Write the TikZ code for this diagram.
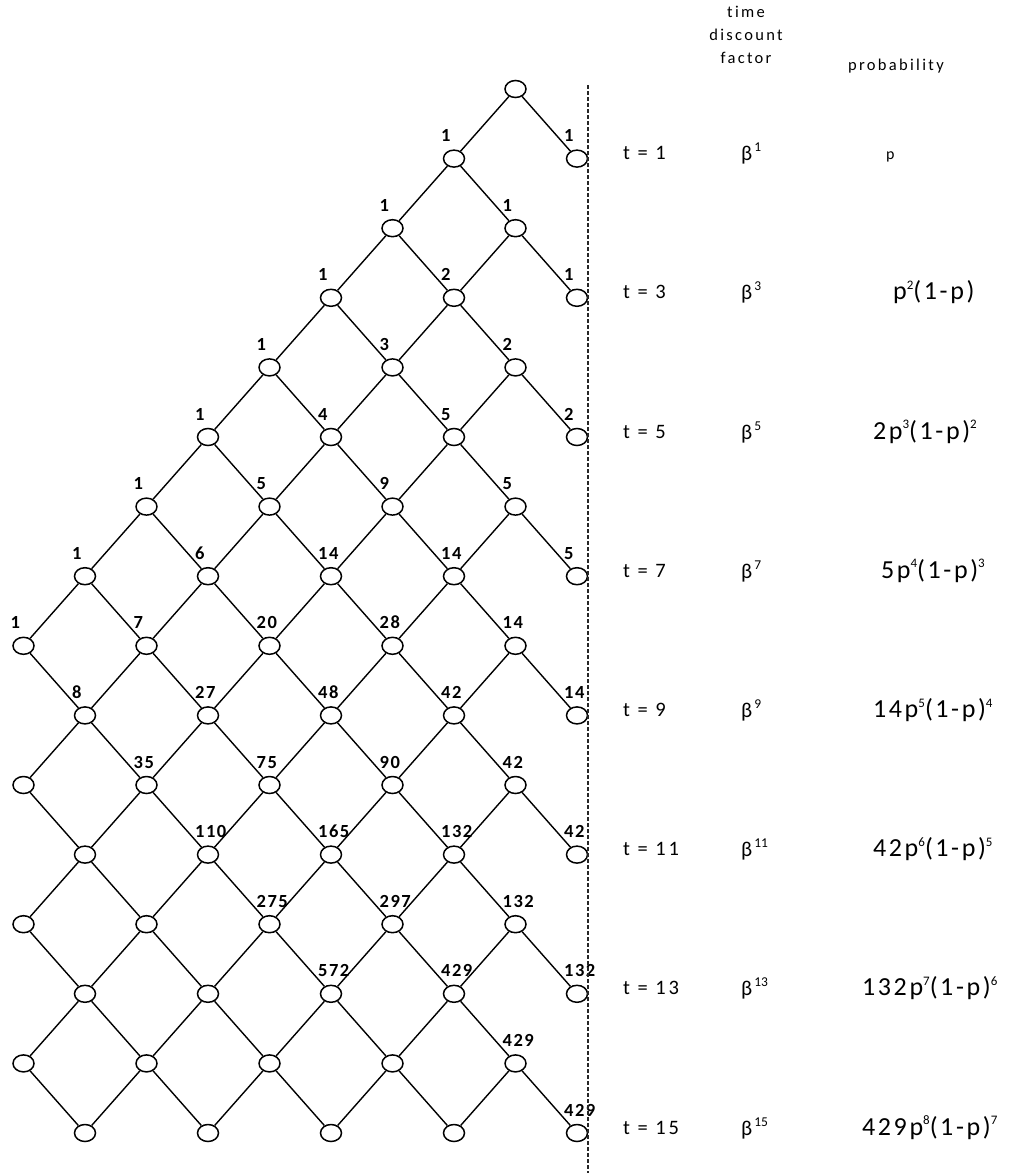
\documentclass[tikz,border=0pt]{standalone}
\usepackage{fontspec}
\setmainfont{Carlito}[Ligatures=NoCommon]
\newfontfamily\lblfont[LetterSpace=8,Ligatures=NoCommon]{Carlito}
\newfontfamily\sidefont[LetterSpace=14,Ligatures=NoCommon]{Carlito}
\newfontfamily\probfont[LetterSpace=10,Ligatures=NoCommon]{Carlito}
\newcommand\psup[1]{\raisebox{0.40em}{\fontsize{13}{13}\selectfont #1}}
\newcommand\bsup[1]{\raisebox{0.42em}{\fontsize{13.5}{13.5}\selectfont #1}}
\usetikzlibrary{shapes.geometric}
\begin{document}
\begin{tikzpicture}[x=1pt,y=-1pt,
  lat/.style={ellipse,draw,line width=1.5pt,minimum width=21pt,minimum height=17pt,inner sep=0pt},
  edge/.style={line width=1.4pt},
  cnt/.style={anchor=base west,inner sep=0pt,font=\lblfont\bfseries\fontsize{18.5}{18.5}\selectfont},
  tlab/.style={anchor=base west,inner sep=0pt,font=\sidefont\fontsize{20.5}{20.5}\selectfont},
  blab/.style={anchor=base west,inner sep=0pt,font=\fontsize{21}{21}\selectfont},
  plab/.style={anchor=base west,inner sep=0pt,font=\probfont\fontsize{26}{26}\selectfont},
  head/.style={anchor=base,inner sep=0pt,font=\sidefont\fontsize{16.5}{16.5}\selectfont},
  sep/.style={line width=1.1pt,black!85,dash pattern=on 4pt off 2pt}
]
\useasboundingbox (0,0) rectangle (1011,1173);

% lattice nodes
\foreach \t in {0,...,15} {
  \foreach \c in {0,...,9} {
    \pgfmathtruncatemacro\ok{(mod(\t+\c+1,2)==0) && (\c<=\t+1)}
    \ifnum\ok=1
      \node[lat] (n-\t-\c) at ({577-61.5*\c},{89+69.6*\t}) {};
    \fi
  }
}

% lattice edges
\foreach \t in {0,...,14} {
  \pgfmathtruncatemacro\tn{\t+1}
  \foreach \c in {1,...,9} {
    \pgfmathtruncatemacro\ok{(mod(\t+\c+1,2)==0) && (\c<=\t+1)}
    \ifnum\ok=1
      \pgfmathtruncatemacro\cl{\c-1}
      \draw[edge] (n-\t-\c) -- (n-\tn-\cl);
      \ifnum\c<9
        \pgfmathtruncatemacro\cr{\c+1}
        \draw[edge] (n-\t-\c) -- (n-\tn-\cr);
      \fi
    \fi
  }
}

% path counts
\foreach \t/\c/\v in {1/2/1,1/0/1,
  2/3/1,2/1/1,
  3/4/1,3/2/2,3/0/1,
  4/5/1,4/3/3,4/1/2,
  5/6/1,5/4/4,5/2/5,5/0/2,
  6/7/1,6/5/5,6/3/9,6/1/5,
  7/8/1,7/6/6,7/4/14,7/2/14,7/0/5,
  8/9/1,8/7/7,8/5/20,8/3/28,8/1/14,
  9/8/8,9/6/27,9/4/48,9/2/42,9/0/14,
  10/7/35,10/5/75,10/3/90,10/1/42,
  11/6/110,11/4/165,11/2/132,11/0/42,
  12/5/275,12/3/297,12/1/132,
  13/4/572,13/2/429,13/0/132,
  14/1/429,
  15/0/429} {
  \node[cnt] (l-\t-\c) at ([xshift=-13pt,yshift=17pt]n-\t-\c.center) {\v};
}

% separator
\coordinate (sepT) at (588,85);
\coordinate (sepB) at (588,1173);
\draw[sep] (sepT) -- (sepB);

% headers
\node[head] (h1) at (746,17) {time};
\node[head] (h2) at (746,40) {discount};
\node[head] (h3) at (746,63) {factor};
\node[head] (h4) at (896,70) {probability};

% time and discount columns
\foreach \t in {1,3,...,15} {
  \node[tlab] (t-\t) at (623,{89+69.6*\t+1}) {t = \t};
  \node[blab] (b-\t) at (741,{89+69.6*\t+2}) {β\kern2pt\bsup{\t}};
}

% probability column
\node[plab,font=\probfont\fontsize{16}{16}\selectfont] (p-1) at (886,{89+69.6*1+1}) {p};
\node[plab] (p-3) at (893,{89+69.6*3+2}) {p\psup{2}(1-p)};
\node[plab] (p-5) at (873,{89+69.6*5+2}) {2p\psup{3}(1-p)\psup{2}};
\node[plab] (p-7) at (881,{89+69.6*7+2}) {5p\psup{4}(1-p)\psup{3}};
\node[plab] (p-9) at (873,{89+69.6*9+2}) {14p\psup{5}(1-p)\psup{4}};
\node[plab] (p-11) at (873,{89+69.6*11+2}) {42p\psup{6}(1-p)\psup{5}};
\node[plab] (p-13) at (862,{89+69.6*13+2}) {132p\psup{7}(1-p)\psup{6}};
\node[plab] (p-15) at (862,{89+69.6*15+2}) {429p\psup{8}(1-p)\psup{7}};
\end{tikzpicture}
\end{document}
